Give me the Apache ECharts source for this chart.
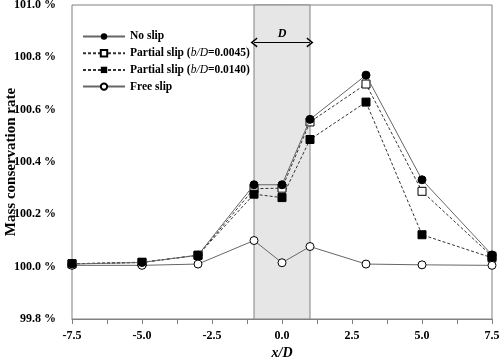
<!DOCTYPE html>
<html><head><meta charset="utf-8">
<script src="https://cdn.jsdelivr.net/npm/echarts@6/dist/echarts.min.js"></script>
<style>html,body{margin:0;padding:0;background:#fff}#c{width:500px;height:362px}</style>
</head><body><div id="c"></div>
<script>
const xValues = [-7.5, -5, -3, -1, 0, 1, 3, 5, 7.5];
const noSlip = [100.01, 100.016, 100.044, 100.313, 100.313, 100.563, 100.732, 100.332, 100.045];
const partial0045 = [100.011, 100.017, 100.043, 100.298, 100.300, 100.553, 100.698, 100.288, 100.040];
const partial0140 = [100.011, 100.016, 100.044, 100.277, 100.264, 100.486, 100.629, 100.122, 100.034];
const freeSlip = [100.005, 100.005, 100.01, 100.100, 100.015, 100.077, 100.010, 100.007, 100.005];
const seriesNames = ['No slip', 'Partial slip (b/D=0.0045)', 'Partial slip (b/D=0.0140)', 'Free slip'];
const bandRange = [-1, 1];
const arrowLevel = 100.857;

const font = 'Liberation Serif';
const pair = arr => xValues.map((x, i) => [x, arr[i]]);
const chevron = 'path://M5,0 L10,9 L8.6,10 L5,3.2 L1.4,10 L0,9 Z';

const chart = echarts.init(document.getElementById('c'));
chart.setOption({
  animation: false,
  grid: {left: 72, right: 8, top: 5, bottom: 43, containLabel: false, outerBoundsMode: 'none',
    show: true, borderColor: '#808080', borderWidth: 1},
  legend: {
    orient: 'vertical', left: 82, top: 30, itemWidth: 42, itemHeight: 8, itemGap: 3.7,
    padding: 0,
    data: seriesNames,
    textStyle: {fontFamily: font, fontWeight: 'bold', fontSize: 11.5, color: '#000', lineHeight: 13,
      rich: {i: {fontFamily: font, fontStyle: 'italic', fontWeight: 'normal', fontSize: 11.5, color: '#000', lineHeight: 13},
             b: {fontFamily: font, fontWeight: 'bold', fontSize: 11.5, color: '#000', lineHeight: 13}}},
    formatter: n => {
      const m = n.match(/^(.*\()b\/D(=.*)$/);
      return m ? '{b|' + m[1] + '}{i|b/D}{b|' + m[2] + '}' : n;
    }
  },
  xAxis: {
    type: 'value', min: -7.5, max: 7.5, interval: 2.5,
    name: 'x/D', nameLocation: 'middle', nameGap: 27, nameMoveOverlap: false,
    nameTextStyle: {fontFamily: font, fontStyle: 'italic', fontWeight: 'bold', fontSize: 14, color: '#000'},
    axisLine: {lineStyle: {color: '#808080'}},
    axisTick: {show: true, length: 5, lineStyle: {color: '#808080'}},
    minorTick: {show: true, splitNumber: 2, length: 5, lineStyle: {color: '#808080'}},
    splitLine: {show: false},
    axisLabel: {fontFamily: font, fontWeight: 'bold', fontSize: 12, color: '#000', margin: 11,
      formatter: v => v.toFixed(1)}
  },
  yAxis: {
    type: 'value', min: 99.8, max: 101.0, interval: 0.2,
    name: 'Mass conservation rate', nameLocation: 'middle', nameGap: 53, nameMoveOverlap: false,
    nameTextStyle: {fontFamily: font, fontWeight: 'bold', fontSize: 15, color: '#000'},
    axisLine: {show: true, lineStyle: {color: '#808080'}},
    axisTick: {show: true, length: 5, lineStyle: {color: '#808080'}},
    minorTick: {show: true, splitNumber: 2, length: 5, lineStyle: {color: '#808080'}},
    splitLine: {show: false},
    axisLabel: {fontFamily: font, fontWeight: 'bold', fontSize: 12, color: '#000', margin: 16,
      formatter: v => v.toFixed(1) + ' %'}
  },
  series: [
    {
      name: seriesNames[0], type: 'line', data: pair(noSlip), z: 5,
      symbol: 'circle', symbolSize: 8,
      lineStyle: {color: '#666', width: 1},
      itemStyle: {color: '#000', borderColor: '#000'},
      markArea: {
        silent: true,
        itemStyle: {color: '#e6e6e6', borderColor: '#808080', borderWidth: 1},
        data: [[{xAxis: bandRange[0], yAxis: 99.8}, {xAxis: bandRange[1], yAxis: 101.0}]]
      },
      markLine: {
        silent: true, symbol: [chevron, chevron], symbolSize: [10, 7],
        lineStyle: {color: '#000', width: 1, type: 'solid'},
        label: {show: true, position: 'middle', formatter: 'D', distance: 3,
          fontFamily: font, fontStyle: 'italic', fontWeight: 'bold', fontSize: 12, color: '#000'},
        data: [[{coord: [bandRange[0], arrowLevel]}, {coord: [bandRange[1], arrowLevel]}]]
      }
    },
    {
      name: seriesNames[1], type: 'line', data: pair(partial0045), z: 4,
      symbol: 'rect', symbolSize: 8,
      lineStyle: {color: '#333', width: 1, type: [3, 2]},
      itemStyle: {color: '#fff', borderColor: '#000', borderWidth: 1}
    },
    {
      name: seriesNames[2], type: 'line', data: pair(partial0140), z: 4,
      symbol: 'rect', symbolSize: 8,
      lineStyle: {color: '#333', width: 1, type: [3, 2]},
      itemStyle: {color: '#000', borderColor: '#000'}
    },
    {
      name: seriesNames[3], type: 'line', data: pair(freeSlip), z: 4,
      symbol: 'circle', symbolSize: 8,
      lineStyle: {color: '#666', width: 1},
      itemStyle: {color: '#fff', borderColor: '#000', borderWidth: 1}
    }
  ]
});
</script></body></html>
